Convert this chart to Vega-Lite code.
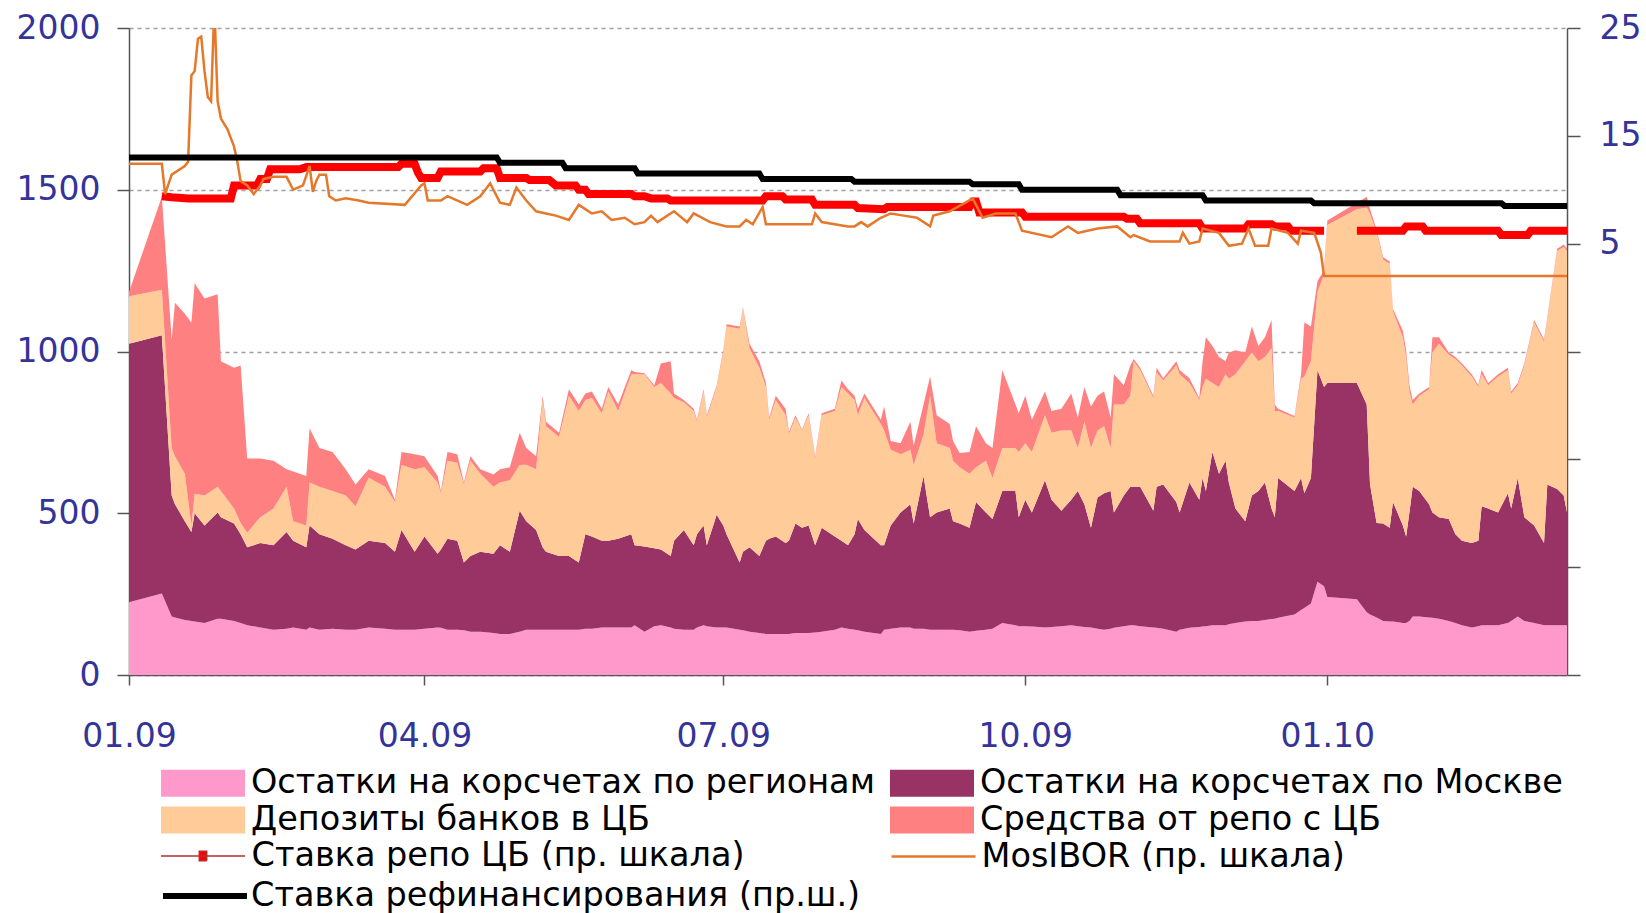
{
  "$schema": "https://vega.github.io/schema/vega-lite/v6.json",
  "width": 1438,
  "height": 647,
  "autosize": {"type": "none"},
  "padding": {"left": 129, "top": 28, "right": 79, "bottom": 238},
  "background": "white",
  "config": {
    "view": {"stroke": null},
    "font": "DejaVu Sans",
    "axis": {
      "labelFont": "DejaVu Sans",
      "labelFontSize": 33,
      "labelColor": "#333399",
      "domainColor": "#555555",
      "tickColor": "#555555",
      "domainWidth": 1.5,
      "tickWidth": 1.5,
      "title": null
    },
    "legend": {
      "labelFont": "DejaVu Sans",
      "labelFontSize": 33.5,
      "labelColor": "#000000",
      "labelLimit": 2000,
      "padding": 0,
      "title": null
    }
  },
  "datasets": {
    "areas": [
      {"date":"2009-01-01","s1_reg":225,"s2_mos":799,"s3_dep":147,"s4_repo":13},
      {"date":"2009-01-11","s1_reg":252,"s2_mos":798,"s3_dep":141,"s4_repo":287},
      {"date":"2009-01-14","s1_reg":181,"s2_mos":374,"s3_dep":147,"s4_repo":335},
      {"date":"2009-01-15","s1_reg":178,"s2_mos":350,"s3_dep":148,"s4_repo":475},
      {"date":"2009-01-18","s1_reg":170,"s2_mos":305,"s3_dep":147,"s4_repo":495},
      {"date":"2009-01-20","s1_reg":167,"s2_mos":275,"s3_dep":20,"s4_repo":628},
      {"date":"2009-01-21","s1_reg":165,"s2_mos":335,"s3_dep":60,"s4_repo":651},
      {"date":"2009-01-24","s1_reg":161,"s2_mos":301,"s3_dep":93,"s4_repo":609},
      {"date":"2009-01-28","s1_reg":174,"s2_mos":328,"s3_dep":80,"s4_repo":595},
      {"date":"2009-01-29","s1_reg":174,"s2_mos":314,"s3_dep":81,"s4_repo":401},
      {"date":"2009-02-02","s1_reg":167,"s2_mos":301,"s3_dep":47,"s4_repo":435},
      {"date":"2009-02-04","s1_reg":161,"s2_mos":274,"s3_dep":35,"s4_repo":487},
      {"date":"2009-02-06","s1_reg":154,"s2_mos":241,"s3_dep":45,"s4_repo":229},
      {"date":"2009-02-10","s1_reg":147,"s2_mos":261,"s3_dep":80,"s4_repo":181},
      {"date":"2009-02-14","s1_reg":140,"s2_mos":261,"s3_dep":114,"s4_repo":147},
      {"date":"2009-02-18","s1_reg":143,"s2_mos":299,"s3_dep":140,"s4_repo":54},
      {"date":"2009-02-20","s1_reg":147,"s2_mos":268,"s3_dep":60,"s4_repo":154},
      {"date":"2009-02-24","s1_reg":140,"s2_mos":255,"s3_dep":67,"s4_repo":153},
      {"date":"2009-02-25","s1_reg":147,"s2_mos":315,"s3_dep":133,"s4_repo":168},
      {"date":"2009-02-28","s1_reg":140,"s2_mos":295,"s3_dep":147,"s4_repo":120},
      {"date":"2009-03-04","s1_reg":143,"s2_mos":278,"s3_dep":148,"s4_repo":120},
      {"date":"2009-03-08","s1_reg":140,"s2_mos":261,"s3_dep":154,"s4_repo":81},
      {"date":"2009-03-11","s1_reg":140,"s2_mos":248,"s3_dep":134,"s4_repo":67},
      {"date":"2009-03-15","s1_reg":147,"s2_mos":268,"s3_dep":195,"s4_repo":26},
      {"date":"2009-03-20","s1_reg":143,"s2_mos":265,"s3_dep":174,"s4_repo":33},
      {"date":"2009-03-23","s1_reg":140,"s2_mos":241,"s3_dep":154,"s4_repo":7},
      {"date":"2009-03-25","s1_reg":140,"s2_mos":308,"s3_dep":201,"s4_repo":40},
      {"date":"2009-03-29","s1_reg":140,"s2_mos":241,"s3_dep":255,"s4_repo":46},
      {"date":"2009-04-01","s1_reg":143,"s2_mos":285,"s3_dep":214,"s4_repo":34},
      {"date":"2009-04-05","s1_reg":147,"s2_mos":228,"s3_dep":220,"s4_repo":20},
      {"date":"2009-04-06","s1_reg":146,"s2_mos":242,"s3_dep":174,"s4_repo":7},
      {"date":"2009-04-08","s1_reg":140,"s2_mos":281,"s3_dep":241,"s4_repo":27},
      {"date":"2009-04-11","s1_reg":140,"s2_mos":275,"s3_dep":241,"s4_repo":26},
      {"date":"2009-04-13","s1_reg":138,"s2_mos":210,"s3_dep":241,"s4_repo":6},
      {"date":"2009-04-15","s1_reg":134,"s2_mos":234,"s3_dep":294,"s4_repo":14},
      {"date":"2009-04-18","s1_reg":134,"s2_mos":247,"s3_dep":241,"s4_repo":14},
      {"date":"2009-04-22","s1_reg":130,"s2_mos":245,"s3_dep":207,"s4_repo":38},
      {"date":"2009-04-24","s1_reg":127,"s2_mos":274,"s3_dep":194,"s4_repo":41},
      {"date":"2009-04-27","s1_reg":127,"s2_mos":254,"s3_dep":221,"s4_repo":40},
      {"date":"2009-04-30","s1_reg":134,"s2_mos":374,"s3_dep":141,"s4_repo":100},
      {"date":"2009-05-02","s1_reg":140,"s2_mos":335,"s3_dep":175,"s4_repo":52},
      {"date":"2009-05-05","s1_reg":140,"s2_mos":308,"s3_dep":188,"s4_repo":40},
      {"date":"2009-05-07","s1_reg":140,"s2_mos":255,"s3_dep":455,"s4_repo":13},
      {"date":"2009-05-08","s1_reg":140,"s2_mos":241,"s3_dep":388,"s4_repo":14},
      {"date":"2009-05-12","s1_reg":140,"s2_mos":228,"s3_dep":368,"s4_repo":13},
      {"date":"2009-05-15","s1_reg":140,"s2_mos":228,"s3_dep":495,"s4_repo":20},
      {"date":"2009-05-18","s1_reg":140,"s2_mos":208,"s3_dep":468,"s4_repo":20},
      {"date":"2009-05-20","s1_reg":143,"s2_mos":292,"s3_dep":415,"s4_repo":20},
      {"date":"2009-05-22","s1_reg":143,"s2_mos":285,"s3_dep":428,"s4_repo":20},
      {"date":"2009-05-25","s1_reg":147,"s2_mos":268,"s3_dep":394,"s4_repo":14},
      {"date":"2009-05-27","s1_reg":147,"s2_mos":268,"s3_dep":461,"s4_repo":14},
      {"date":"2009-05-30","s1_reg":147,"s2_mos":274,"s3_dep":395,"s4_repo":20},
      {"date":"2009-06-03","s1_reg":147,"s2_mos":288,"s3_dep":495,"s4_repo":13},
      {"date":"2009-06-04","s1_reg":154,"s2_mos":247,"s3_dep":529,"s4_repo":7},
      {"date":"2009-06-07","s1_reg":134,"s2_mos":263,"s3_dep":533,"s4_repo":3},
      {"date":"2009-06-10","s1_reg":151,"s2_mos":241,"s3_dep":498,"s4_repo":6},
      {"date":"2009-06-12","s1_reg":154,"s2_mos":234,"s3_dep":515,"s4_repo":60},
      {"date":"2009-06-15","s1_reg":147,"s2_mos":221,"s3_dep":502,"s4_repo":100},
      {"date":"2009-06-16","s1_reg":143,"s2_mos":272,"s3_dep":441,"s4_repo":14},
      {"date":"2009-06-19","s1_reg":140,"s2_mos":308,"s3_dep":395,"s4_repo":7},
      {"date":"2009-06-22","s1_reg":140,"s2_mos":261,"s3_dep":415,"s4_repo":7},
      {"date":"2009-06-23","s1_reg":147,"s2_mos":288,"s3_dep":348,"s4_repo":6},
      {"date":"2009-06-25","s1_reg":154,"s2_mos":308,"s3_dep":414,"s4_repo":7},
      {"date":"2009-06-26","s1_reg":151,"s2_mos":250,"s3_dep":395,"s4_repo":7},
      {"date":"2009-06-29","s1_reg":147,"s2_mos":348,"s3_dep":395,"s4_repo":6},
      {"date":"2009-07-01","s1_reg":147,"s2_mos":315,"s3_dep":535,"s4_repo":7},
      {"date":"2009-07-02","s1_reg":147,"s2_mos":288,"s3_dep":642,"s4_repo":7},
      {"date":"2009-07-06","s1_reg":140,"s2_mos":208,"s3_dep":722,"s4_repo":7},
      {"date":"2009-07-07","s1_reg":138,"s2_mos":243,"s3_dep":750,"s4_repo":6},
      {"date":"2009-07-09","s1_reg":134,"s2_mos":261,"s3_dep":615,"s4_repo":14},
      {"date":"2009-07-12","s1_reg":130,"s2_mos":238,"s3_dep":582,"s4_repo":20},
      {"date":"2009-07-14","s1_reg":127,"s2_mos":288,"s3_dep":475,"s4_repo":13},
      {"date":"2009-07-15","s1_reg":127,"s2_mos":294,"s3_dep":368,"s4_repo":7},
      {"date":"2009-07-17","s1_reg":127,"s2_mos":301,"s3_dep":422,"s4_repo":13},
      {"date":"2009-07-20","s1_reg":127,"s2_mos":281,"s3_dep":395,"s4_repo":20},
      {"date":"2009-07-21","s1_reg":127,"s2_mos":288,"s3_dep":330,"s4_repo":7},
      {"date":"2009-07-23","s1_reg":130,"s2_mos":338,"s3_dep":328,"s4_repo":7},
      {"date":"2009-07-25","s1_reg":130,"s2_mos":325,"s3_dep":301,"s4_repo":3},
      {"date":"2009-07-27","s1_reg":130,"s2_mos":332,"s3_dep":341,"s4_repo":6},
      {"date":"2009-07-29","s1_reg":131,"s2_mos":270,"s3_dep":268,"s4_repo":7},
      {"date":"2009-07-31","s1_reg":134,"s2_mos":321,"s3_dep":348,"s4_repo":6},
      {"date":"2009-08-04","s1_reg":140,"s2_mos":288,"s3_dep":388,"s4_repo":7},
      {"date":"2009-08-06","s1_reg":147,"s2_mos":268,"s3_dep":475,"s4_repo":20},
      {"date":"2009-08-08","s1_reg":143,"s2_mos":258,"s3_dep":469,"s4_repo":13},
      {"date":"2009-08-10","s1_reg":140,"s2_mos":295,"s3_dep":415,"s4_repo":13},
      {"date":"2009-08-11","s1_reg":138,"s2_mos":344,"s3_dep":321,"s4_repo":20},
      {"date":"2009-08-13","s1_reg":134,"s2_mos":314,"s3_dep":408,"s4_repo":14},
      {"date":"2009-08-18","s1_reg":127,"s2_mos":274,"s3_dep":375,"s4_repo":13},
      {"date":"2009-08-19","s1_reg":140,"s2_mos":261,"s3_dep":355,"s4_repo":74},
      {"date":"2009-08-21","s1_reg":143,"s2_mos":319,"s3_dep":234,"s4_repo":27},
      {"date":"2009-08-24","s1_reg":147,"s2_mos":355,"s3_dep":180,"s4_repo":34},
      {"date":"2009-08-27","s1_reg":147,"s2_mos":381,"s3_dep":168,"s4_repo":87},
      {"date":"2009-08-28","s1_reg":143,"s2_mos":325,"s3_dep":181,"s4_repo":60},
      {"date":"2009-08-31","s1_reg":143,"s2_mos":472,"s3_dep":128,"s4_repo":93},
      {"date":"2009-09-02","s1_reg":140,"s2_mos":348,"s3_dep":375,"s4_repo":60},
      {"date":"2009-09-04","s1_reg":140,"s2_mos":362,"s3_dep":214,"s4_repo":87},
      {"date":"2009-09-08","s1_reg":140,"s2_mos":375,"s3_dep":187,"s4_repo":74},
      {"date":"2009-09-09","s1_reg":140,"s2_mos":335,"s3_dep":187,"s4_repo":61},
      {"date":"2009-09-11","s1_reg":138,"s2_mos":330,"s3_dep":174,"s4_repo":44},
      {"date":"2009-09-14","s1_reg":134,"s2_mos":321,"s3_dep":167,"s4_repo":67},
      {"date":"2009-09-16","s1_reg":137,"s2_mos":398,"s3_dep":107,"s4_repo":127},
      {"date":"2009-09-19","s1_reg":140,"s2_mos":362,"s3_dep":160,"s4_repo":54},
      {"date":"2009-09-21","s1_reg":143,"s2_mos":339,"s3_dep":127,"s4_repo":93},
      {"date":"2009-09-24","s1_reg":161,"s2_mos":408,"s3_dep":133,"s4_repo":241},
      {"date":"2009-09-28","s1_reg":154,"s2_mos":415,"s3_dep":133,"s4_repo":134},
      {"date":"2009-09-29","s1_reg":151,"s2_mos":337,"s3_dep":201,"s4_repo":120},
      {"date":"2009-10-01","s1_reg":151,"s2_mos":391,"s3_dep":174,"s4_repo":147},
      {"date":"2009-10-03","s1_reg":150,"s2_mos":352,"s3_dep":187,"s4_repo":100},
      {"date":"2009-10-07","s1_reg":147,"s2_mos":455,"s3_dep":201,"s4_repo":73},
      {"date":"2009-10-09","s1_reg":148,"s2_mos":394,"s3_dep":207,"s4_repo":67},
      {"date":"2009-10-12","s1_reg":151,"s2_mos":357,"s3_dep":248,"s4_repo":67},
      {"date":"2009-10-15","s1_reg":154,"s2_mos":388,"s3_dep":214,"s4_repo":114},
      {"date":"2009-10-17","s1_reg":151,"s2_mos":418,"s3_dep":133,"s4_repo":94},
      {"date":"2009-10-19","s1_reg":148,"s2_mos":380,"s3_dep":255,"s4_repo":107},
      {"date":"2009-10-21","s1_reg":147,"s2_mos":308,"s3_dep":247,"s4_repo":128},
      {"date":"2009-10-23","s1_reg":143,"s2_mos":406,"s3_dep":207,"s4_repo":107},
      {"date":"2009-10-25","s1_reg":140,"s2_mos":422,"s3_dep":207,"s4_repo":107},
      {"date":"2009-10-27","s1_reg":143,"s2_mos":426,"s3_dep":133,"s4_repo":94},
      {"date":"2009-10-28","s1_reg":146,"s2_mos":356,"s3_dep":334,"s4_repo":94},
      {"date":"2009-10-31","s1_reg":151,"s2_mos":404,"s3_dep":281,"s4_repo":60},
      {"date":"2009-11-02","s1_reg":154,"s2_mos":428,"s3_dep":281,"s4_repo":94},
      {"date":"2009-11-03","s1_reg":154,"s2_mos":428,"s3_dep":388,"s4_repo":7},
      {"date":"2009-11-05","s1_reg":151,"s2_mos":431,"s3_dep":361,"s4_repo":7},
      {"date":"2009-11-09","s1_reg":147,"s2_mos":361,"s3_dep":348,"s4_repo":7},
      {"date":"2009-11-10","s1_reg":146,"s2_mos":436,"s3_dep":354,"s4_repo":14},
      {"date":"2009-11-12","s1_reg":143,"s2_mos":446,"s3_dep":321,"s4_repo":7},
      {"date":"2009-11-16","s1_reg":134,"s2_mos":401,"s3_dep":422,"s4_repo":13},
      {"date":"2009-11-17","s1_reg":140,"s2_mos":362,"s3_dep":428,"s4_repo":13},
      {"date":"2009-11-20","s1_reg":146,"s2_mos":449,"s3_dep":308,"s4_repo":14},
      {"date":"2009-11-23","s1_reg":148,"s2_mos":394,"s3_dep":308,"s4_repo":6},
      {"date":"2009-11-24","s1_reg":150,"s2_mos":459,"s3_dep":281,"s4_repo":80},
      {"date":"2009-11-25","s1_reg":151,"s2_mos":418,"s3_dep":347,"s4_repo":128},
      {"date":"2009-11-27","s1_reg":154,"s2_mos":535,"s3_dep":214,"s4_repo":114},
      {"date":"2009-11-29","s1_reg":154,"s2_mos":468,"s3_dep":268,"s4_repo":93},
      {"date":"2009-12-01","s1_reg":154,"s2_mos":508,"s3_dep":268,"s4_repo":40},
      {"date":"2009-12-02","s1_reg":157,"s2_mos":438,"s3_dep":321,"s4_repo":81},
      {"date":"2009-12-04","s1_reg":161,"s2_mos":354,"s3_dep":415,"s4_repo":74},
      {"date":"2009-12-07","s1_reg":165,"s2_mos":310,"s3_dep":495,"s4_repo":27},
      {"date":"2009-12-09","s1_reg":167,"s2_mos":388,"s3_dep":442,"s4_repo":80},
      {"date":"2009-12-11","s1_reg":167,"s2_mos":402,"s3_dep":401,"s4_repo":47},
      {"date":"2009-12-13","s1_reg":170,"s2_mos":425,"s3_dep":388,"s4_repo":61},
      {"date":"2009-12-15","s1_reg":173,"s2_mos":342,"s3_dep":495,"s4_repo":87},
      {"date":"2009-12-16","s1_reg":174,"s2_mos":314,"s3_dep":328,"s4_repo":20},
      {"date":"2009-12-17","s1_reg":177,"s2_mos":432,"s3_dep":207,"s4_repo":7},
      {"date":"2009-12-22","s1_reg":187,"s2_mos":382,"s3_dep":227,"s4_repo":5},
      {"date":"2009-12-24","s1_reg":201,"s2_mos":408,"s3_dep":307,"s4_repo":14},
      {"date":"2009-12-25","s1_reg":207,"s2_mos":355,"s3_dep":361,"s4_repo":167},
      {"date":"2009-12-27","s1_reg":221,"s2_mos":388,"s3_dep":361,"s4_repo":107},
      {"date":"2009-12-29","s1_reg":288,"s2_mos":655,"s3_dep":241,"s4_repo":34},
      {"date":"2009-12-31","s1_reg":274,"s2_mos":616,"s3_dep":348,"s4_repo":13},
      {"date":"2010-01-01","s1_reg":241,"s2_mos":662,"s3_dep":488,"s4_repo":14},
      {"date":"2010-01-10","s1_reg":234,"s2_mos":669,"s3_dep":537,"s4_repo":20},
      {"date":"2010-01-13","s1_reg":194,"s2_mos":642,"s3_dep":609,"s4_repo":33},
      {"date":"2010-01-14","s1_reg":187,"s2_mos":403,"s3_dep":835,"s4_repo":15},
      {"date":"2010-01-16","s1_reg":178,"s2_mos":292,"s3_dep":900,"s4_repo":8},
      {"date":"2010-01-18","s1_reg":167,"s2_mos":301,"s3_dep":816,"s4_repo":7},
      {"date":"2010-01-20","s1_reg":165,"s2_mos":290,"s3_dep":816,"s4_repo":7},
      {"date":"2010-01-21","s1_reg":165,"s2_mos":370,"s3_dep":589,"s4_repo":7},
      {"date":"2010-01-24","s1_reg":161,"s2_mos":301,"s3_dep":582,"s4_repo":20},
      {"date":"2010-01-25","s1_reg":161,"s2_mos":267,"s3_dep":555,"s4_repo":21},
      {"date":"2010-01-26","s1_reg":167,"s2_mos":335,"s3_dep":374,"s4_repo":20},
      {"date":"2010-01-27","s1_reg":181,"s2_mos":401,"s3_dep":254,"s4_repo":14},
      {"date":"2010-01-29","s1_reg":181,"s2_mos":388,"s3_dep":294,"s4_repo":7},
      {"date":"2010-02-01","s1_reg":178,"s2_mos":350,"s3_dep":355,"s4_repo":7},
      {"date":"2010-02-02","s1_reg":177,"s2_mos":325,"s3_dep":495,"s4_repo":47},
      {"date":"2010-02-04","s1_reg":174,"s2_mos":314,"s3_dep":536,"s4_repo":20},
      {"date":"2010-02-07","s1_reg":167,"s2_mos":315,"s3_dep":508,"s4_repo":7},
      {"date":"2010-02-09","s1_reg":161,"s2_mos":274,"s3_dep":542,"s4_repo":6},
      {"date":"2010-02-11","s1_reg":154,"s2_mos":261,"s3_dep":542,"s4_repo":6},
      {"date":"2010-02-14","s1_reg":147,"s2_mos":261,"s3_dep":515,"s4_repo":7},
      {"date":"2010-02-16","s1_reg":151,"s2_mos":264,"s3_dep":475,"s4_repo":6},
      {"date":"2010-02-17","s1_reg":154,"s2_mos":368,"s3_dep":408,"s4_repo":13},
      {"date":"2010-02-19","s1_reg":154,"s2_mos":361,"s3_dep":381,"s4_repo":7},
      {"date":"2010-02-22","s1_reg":154,"s2_mos":348,"s3_dep":421,"s4_repo":7},
      {"date":"2010-02-25","s1_reg":161,"s2_mos":401,"s3_dep":381,"s4_repo":7},
      {"date":"2010-02-26","s1_reg":167,"s2_mos":348,"s3_dep":355,"s4_repo":6},
      {"date":"2010-02-28","s1_reg":181,"s2_mos":428,"s3_dep":287,"s4_repo":7},
      {"date":"2010-03-02","s1_reg":167,"s2_mos":321,"s3_dep":469,"s4_repo":6},
      {"date":"2010-03-05","s1_reg":161,"s2_mos":301,"s3_dep":628,"s4_repo":7},
      {"date":"2010-03-08","s1_reg":154,"s2_mos":254,"s3_dep":622,"s4_repo":7},
      {"date":"2010-03-09","s1_reg":154,"s2_mos":435,"s3_dep":508,"s4_repo":7},
      {"date":"2010-03-12","s1_reg":154,"s2_mos":421,"s3_dep":736,"s4_repo":7},
      {"date":"2010-03-14","s1_reg":154,"s2_mos":401,"s3_dep":769,"s4_repo":7},
      {"date":"2010-03-15","s1_reg":154,"s2_mos":348,"s3_dep":809,"s4_repo":7}
    ],
    "refi": [
      {"date":"2009-01-01","value":13},
      {"date":"2009-04-23","value":13},
      {"date":"2009-04-24","value":12.5},
      {"date":"2009-05-13","value":12.5},
      {"date":"2009-05-14","value":12},
      {"date":"2009-06-04","value":12},
      {"date":"2009-06-05","value":11.5},
      {"date":"2009-07-12","value":11.5},
      {"date":"2009-07-13","value":11},
      {"date":"2009-08-09","value":11},
      {"date":"2009-08-10","value":10.75},
      {"date":"2009-09-14","value":10.75},
      {"date":"2009-09-15","value":10.5},
      {"date":"2009-09-29","value":10.5},
      {"date":"2009-09-30","value":10},
      {"date":"2009-10-29","value":10},
      {"date":"2009-10-30","value":9.5},
      {"date":"2009-11-24","value":9.5},
      {"date":"2009-11-25","value":9},
      {"date":"2009-12-27","value":9},
      {"date":"2009-12-28","value":8.75},
      {"date":"2010-02-23","value":8.75},
      {"date":"2010-02-24","value":8.5},
      {"date":"2010-03-15","value":8.5}
    ],
    "repo": [
      {"date":"2009-01-11","value":9.4},
      {"date":"2009-01-14","value":9.3},
      {"date":"2009-01-19","value":9.2},
      {"date":"2009-02-01","value":9.2},
      {"date":"2009-02-02","value":10.4},
      {"date":"2009-02-09","value":10.4},
      {"date":"2009-02-10","value":11.0},
      {"date":"2009-02-12","value":11.0},
      {"date":"2009-02-13","value":11.9},
      {"date":"2009-02-22","value":11.9},
      {"date":"2009-02-24","value":12.1},
      {"date":"2009-03-24","value":12.1},
      {"date":"2009-03-25","value":12.4},
      {"date":"2009-03-29","value":12.4},
      {"date":"2009-03-30","value":11.6},
      {"date":"2009-03-31","value":11.1},
      {"date":"2009-04-05","value":11.1},
      {"date":"2009-04-06","value":11.7},
      {"date":"2009-04-18","value":11.7},
      {"date":"2009-04-19","value":12.0},
      {"date":"2009-04-23","value":12.0},
      {"date":"2009-04-24","value":11.1},
      {"date":"2009-05-02","value":11.1},
      {"date":"2009-05-03","value":10.9},
      {"date":"2009-05-09","value":10.9},
      {"date":"2009-05-11","value":10.4},
      {"date":"2009-05-17","value":10.4},
      {"date":"2009-05-18","value":10.0},
      {"date":"2009-05-20","value":10.0},
      {"date":"2009-05-21","value":9.6},
      {"date":"2009-06-03","value":9.6},
      {"date":"2009-06-04","value":9.4},
      {"date":"2009-06-07","value":9.4},
      {"date":"2009-06-09","value":9.2},
      {"date":"2009-06-14","value":9.2},
      {"date":"2009-06-15","value":9.0},
      {"date":"2009-07-13","value":9.0},
      {"date":"2009-07-14","value":9.4},
      {"date":"2009-07-19","value":9.4},
      {"date":"2009-07-20","value":9.1},
      {"date":"2009-07-28","value":9.1},
      {"date":"2009-07-29","value":8.6},
      {"date":"2009-08-10","value":8.6},
      {"date":"2009-08-11","value":8.3},
      {"date":"2009-08-19","value":8.2},
      {"date":"2009-08-20","value":8.4},
      {"date":"2009-09-14","value":8.4},
      {"date":"2009-09-15","value":8.9},
      {"date":"2009-09-16","value":8.9},
      {"date":"2009-09-17","value":7.9},
      {"date":"2009-09-30","value":7.9},
      {"date":"2009-10-01","value":7.5},
      {"date":"2009-10-31","value":7.5},
      {"date":"2009-11-01","value":7.3},
      {"date":"2009-11-04","value":7.3},
      {"date":"2009-11-05","value":6.9},
      {"date":"2009-11-23","value":6.9},
      {"date":"2009-11-24","value":6.4},
      {"date":"2009-12-07","value":6.4},
      {"date":"2009-12-08","value":6.8},
      {"date":"2009-12-15","value":6.8},
      {"date":"2009-12-16","value":6.6},
      {"date":"2009-12-20","value":6.6},
      {"date":"2009-12-21","value":6.2},
      {"date":"2009-12-31","value":6.2},
      {"date":"2010-01-10","value":6.2},
      {"date":"2010-01-24","value":6.2},
      {"date":"2010-01-25","value":6.6},
      {"date":"2010-01-30","value":6.6},
      {"date":"2010-01-31","value":6.2},
      {"date":"2010-02-22","value":6.2},
      {"date":"2010-02-23","value":5.8},
      {"date":"2010-03-03","value":5.8},
      {"date":"2010-03-04","value":6.2},
      {"date":"2010-03-15","value":6.2}
    ],
    "mosibor": [
      {"date":"2009-01-01","value":12.4},
      {"date":"2009-01-11","value":12.4},
      {"date":"2009-01-12","value":9.6},
      {"date":"2009-01-14","value":11.4},
      {"date":"2009-01-18","value":12.2},
      {"date":"2009-01-19","value":12.6},
      {"date":"2009-01-20","value":20.6},
      {"date":"2009-01-21","value":21.0},
      {"date":"2009-01-22","value":24.0},
      {"date":"2009-01-23","value":24.2},
      {"date":"2009-01-24","value":21.0},
      {"date":"2009-01-25","value":18.6},
      {"date":"2009-01-26","value":18.2},
      {"date":"2009-01-27","value":27.0},
      {"date":"2009-01-28","value":18.2},
      {"date":"2009-01-29","value":16.6},
      {"date":"2009-01-31","value":15.6},
      {"date":"2009-02-02","value":14.0},
      {"date":"2009-02-03","value":12.6},
      {"date":"2009-02-04","value":10.8},
      {"date":"2009-02-06","value":10.4},
      {"date":"2009-02-08","value":9.6},
      {"date":"2009-02-10","value":10.4},
      {"date":"2009-02-11","value":11.0},
      {"date":"2009-02-14","value":11.2},
      {"date":"2009-02-18","value":11.2},
      {"date":"2009-02-20","value":10.0},
      {"date":"2009-02-23","value":10.4},
      {"date":"2009-02-25","value":12.2},
      {"date":"2009-02-26","value":9.8},
      {"date":"2009-02-27","value":10.8},
      {"date":"2009-02-28","value":11.4},
      {"date":"2009-03-02","value":11.4},
      {"date":"2009-03-03","value":9.4},
      {"date":"2009-03-05","value":9.0},
      {"date":"2009-03-08","value":9.2},
      {"date":"2009-03-12","value":9.0},
      {"date":"2009-03-15","value":8.8},
      {"date":"2009-03-26","value":8.6},
      {"date":"2009-03-31","value":10.4},
      {"date":"2009-04-01","value":10.6},
      {"date":"2009-04-02","value":9.0},
      {"date":"2009-04-06","value":9.0},
      {"date":"2009-04-08","value":9.4},
      {"date":"2009-04-14","value":8.6},
      {"date":"2009-04-18","value":9.4},
      {"date":"2009-04-21","value":10.6},
      {"date":"2009-04-24","value":8.8},
      {"date":"2009-04-27","value":8.6},
      {"date":"2009-04-29","value":10.2},
      {"date":"2009-05-02","value":9.0},
      {"date":"2009-05-05","value":8.0},
      {"date":"2009-05-08","value":7.8},
      {"date":"2009-05-11","value":7.6},
      {"date":"2009-05-15","value":7.2},
      {"date":"2009-05-18","value":8.6},
      {"date":"2009-05-22","value":7.8},
      {"date":"2009-05-25","value":8.0},
      {"date":"2009-05-28","value":7.2},
      {"date":"2009-06-01","value":7.4},
      {"date":"2009-06-04","value":6.8},
      {"date":"2009-06-07","value":7.0},
      {"date":"2009-06-09","value":7.6},
      {"date":"2009-06-11","value":7.0},
      {"date":"2009-06-16","value":8.0},
      {"date":"2009-06-20","value":7.0},
      {"date":"2009-06-22","value":7.8},
      {"date":"2009-06-27","value":7.0},
      {"date":"2009-07-02","value":6.6},
      {"date":"2009-07-06","value":6.6},
      {"date":"2009-07-08","value":7.2},
      {"date":"2009-07-10","value":6.8},
      {"date":"2009-07-13","value":8.4},
      {"date":"2009-07-14","value":6.8},
      {"date":"2009-07-28","value":6.8},
      {"date":"2009-07-29","value":7.8},
      {"date":"2009-07-31","value":7.0},
      {"date":"2009-08-08","value":6.6},
      {"date":"2009-08-10","value":6.6},
      {"date":"2009-08-12","value":7.0},
      {"date":"2009-08-14","value":6.6},
      {"date":"2009-08-18","value":7.4},
      {"date":"2009-08-21","value":7.8},
      {"date":"2009-08-25","value":7.6},
      {"date":"2009-08-29","value":7.4},
      {"date":"2009-09-02","value":6.6},
      {"date":"2009-09-03","value":7.6},
      {"date":"2009-09-08","value":8.0},
      {"date":"2009-09-15","value":9.2},
      {"date":"2009-09-18","value":7.4},
      {"date":"2009-09-22","value":7.8},
      {"date":"2009-09-28","value":7.8},
      {"date":"2009-09-30","value":6.2},
      {"date":"2009-10-09","value":5.6},
      {"date":"2009-10-14","value":6.6},
      {"date":"2009-10-17","value":6.0},
      {"date":"2009-10-23","value":6.4},
      {"date":"2009-10-29","value":6.6},
      {"date":"2009-11-02","value":5.6},
      {"date":"2009-11-03","value":5.8},
      {"date":"2009-11-08","value":5.2},
      {"date":"2009-11-17","value":5.2},
      {"date":"2009-11-18","value":6.0},
      {"date":"2009-11-20","value":5.0},
      {"date":"2009-11-23","value":5.2},
      {"date":"2009-11-24","value":6.4},
      {"date":"2009-11-29","value":6.0},
      {"date":"2009-12-02","value":4.8},
      {"date":"2009-12-06","value":5.0},
      {"date":"2009-12-08","value":6.4},
      {"date":"2009-12-10","value":4.8},
      {"date":"2009-12-14","value":4.8},
      {"date":"2009-12-15","value":6.4},
      {"date":"2009-12-20","value":6.0},
      {"date":"2009-12-23","value":5.0},
      {"date":"2009-12-24","value":6.2},
      {"date":"2009-12-28","value":6.0},
      {"date":"2009-12-30","value":4.2},
      {"date":"2009-12-31","value":2.0},
      {"date":"2010-03-15","value":2.0}
    ]
  },
  "layer": [
    {
      "data": {"name": "areas"},
      "transform": [{"fold": ["s1_reg", "s2_mos", "s3_dep", "s4_repo"], "as": ["series", "value"]}],
      "mark": {"type": "area", "interpolate": "linear", "strokeWidth": 0},
      "encoding": {
        "x": {
          "field": "date", "type": "temporal",
          "scale": {"type": "utc", "domain": ["2009-01-01", "2010-03-15"]},
          "axis": {
            "values": ["2009-01-01", "2009-04-01", "2009-07-01", "2009-10-01", "2010-01-01"],
            "labelExpr": "utcFormat(datum.value, '%m.%y')",
            "tickSize": 10, "labelPadding": 35, "labelFlush": false, "labelOverlap": false, "grid": false
          }
        },
        "y": {
          "field": "value", "type": "quantitative", "stack": "zero",
          "scale": {"domain": [0, 2000], "nice": false},
          "axis": {
            "orient": "left", "values": [0, 500, 1000, 1500, 2000], "format": "d",
            "grid": true, "gridDash": [4, 4], "gridColor": "#A0A0A0", "gridWidth": 1.5,
            "tickSize": 12, "labelPadding": 17
          }
        },
        "fill": {
          "field": "series", "type": "nominal",
          "scale": {"domain": ["s1_reg", "s2_mos", "s3_dep", "s4_repo"], "range": ["#FF99CC", "#993366", "#FFCC99", "#FF8080"]},
          "legend": {
            "orient": "none", "legendX": 31, "legendY": 737, "direction": "horizontal",
            "columns": 2, "columnPadding": 14, "rowPadding": 2,
            "symbolType": "M-2.4706,-0.794H2.4706V0.794H-2.4706Z", "symbolSize": 1156,
            "symbolOffset": 25, "labelOffset": 30,
            "labelExpr": "datum.value === 's1_reg' ? 'Остатки на корсчетах по регионам' : datum.value === 's2_mos' ? 'Остатки на корсчетах по Москве' : datum.value === 's3_dep' ? 'Депозиты банков в ЦБ' : 'Средства от репо с ЦБ'"
          }
        },
        "order": {"field": "series", "sort": "ascending"}
      }
    },
    {
      "layer": [
        {
          "data": {"name": "repo"},
          "mark": {"type": "line", "strokeWidth": 8, "clip": true, "color": "#FF0000"},
          "encoding": {
            "x": {
              "field": "date", "type": "temporal",
              "axis": {
                "values": ["2009-01-01", "2009-04-01", "2009-07-01", "2009-10-01", "2010-01-01"],
                "labelExpr": "utcFormat(datum.value, '%m.%y')",
                "tickSize": 10, "labelPadding": 35, "labelFlush": false, "labelOverlap": false, "grid": false
              }
            },
            "y": {
              "field": "value", "type": "quantitative",
              "scale": {"domain": [-35, 25], "nice": false},
              "axis": {
                "orient": "right", "values": [-35, -25, -15, -5, 5, 15, 25],
                "labelExpr": "datum.value > 0 ? datum.label : ''",
                "grid": false, "tickSize": 13, "labelPadding": 19
              }
            },
            "detail": {"field": "date", "timeUnit": "utcyear"}
          }
        },
        {
          "data": {"name": "repo"},
          "mark": {"type": "line", "strokeWidth": 1.5, "clip": true, "color": "#FF0000"},
          "encoding": {
            "x": {"field": "date", "type": "temporal"},
            "y": {"field": "value", "type": "quantitative"},
            "detail": {"field": "date", "timeUnit": "utcyear"},
            "strokeDash": {
              "datum": "Ставка репо ЦБ (пр. шкала)",
              "scale": {"range": [[1, 0]]},
              "legend": {
                "orient": "none", "legendX": 31, "legendY": 810,
                "symbolType": "M-2.4706,0H2.4706M-0.22,-0.28H0.22V0.28H-0.22Z", "symbolSize": 1156,
                "symbolOffset": 25, "labelOffset": 30.5,
                "symbolFillColor": "#FF0000", "symbolStrokeColor": "#B03030", "symbolStrokeWidth": 1.5
              }
            }
          }
        },
        {
          "data": {"name": "mosibor"},
          "mark": {"type": "line", "strokeWidth": 2.5, "clip": true},
          "encoding": {
            "x": {"field": "date", "type": "temporal"},
            "y": {"field": "value", "type": "quantitative"},
            "stroke": {
              "datum": "MosIBOR (пр. шкала)",
              "scale": {"range": ["#E5782A"]},
              "legend": {
                "orient": "none", "legendX": 761, "legendY": 810,
                "symbolType": "M-2.4706,0H2.4706", "symbolSize": 1156,
                "symbolOffset": 25, "labelOffset": 29.5, "symbolStrokeWidth": 2.5
              }
            }
          }
        },
        {
          "data": {"name": "refi"},
          "mark": {"type": "line", "strokeWidth": 6, "clip": true},
          "encoding": {
            "x": {"field": "date", "type": "temporal"},
            "y": {"field": "value", "type": "quantitative"},
            "color": {
              "datum": "Ставка рефинансирования (пр.ш.)",
              "scale": {"range": ["#000000"]},
              "legend": {
                "orient": "none", "legendX": 31, "legendY": 848,
                "symbolType": "M-2.4706,0H2.4706", "symbolSize": 1156,
                "symbolOffset": 25, "labelOffset": 26, "symbolStrokeWidth": 6
              }
            }
          }
        }
      ]
    }
  ],
  "resolve": {"scale": {"y": "independent"}, "axis": {"y": "independent"}}
}
